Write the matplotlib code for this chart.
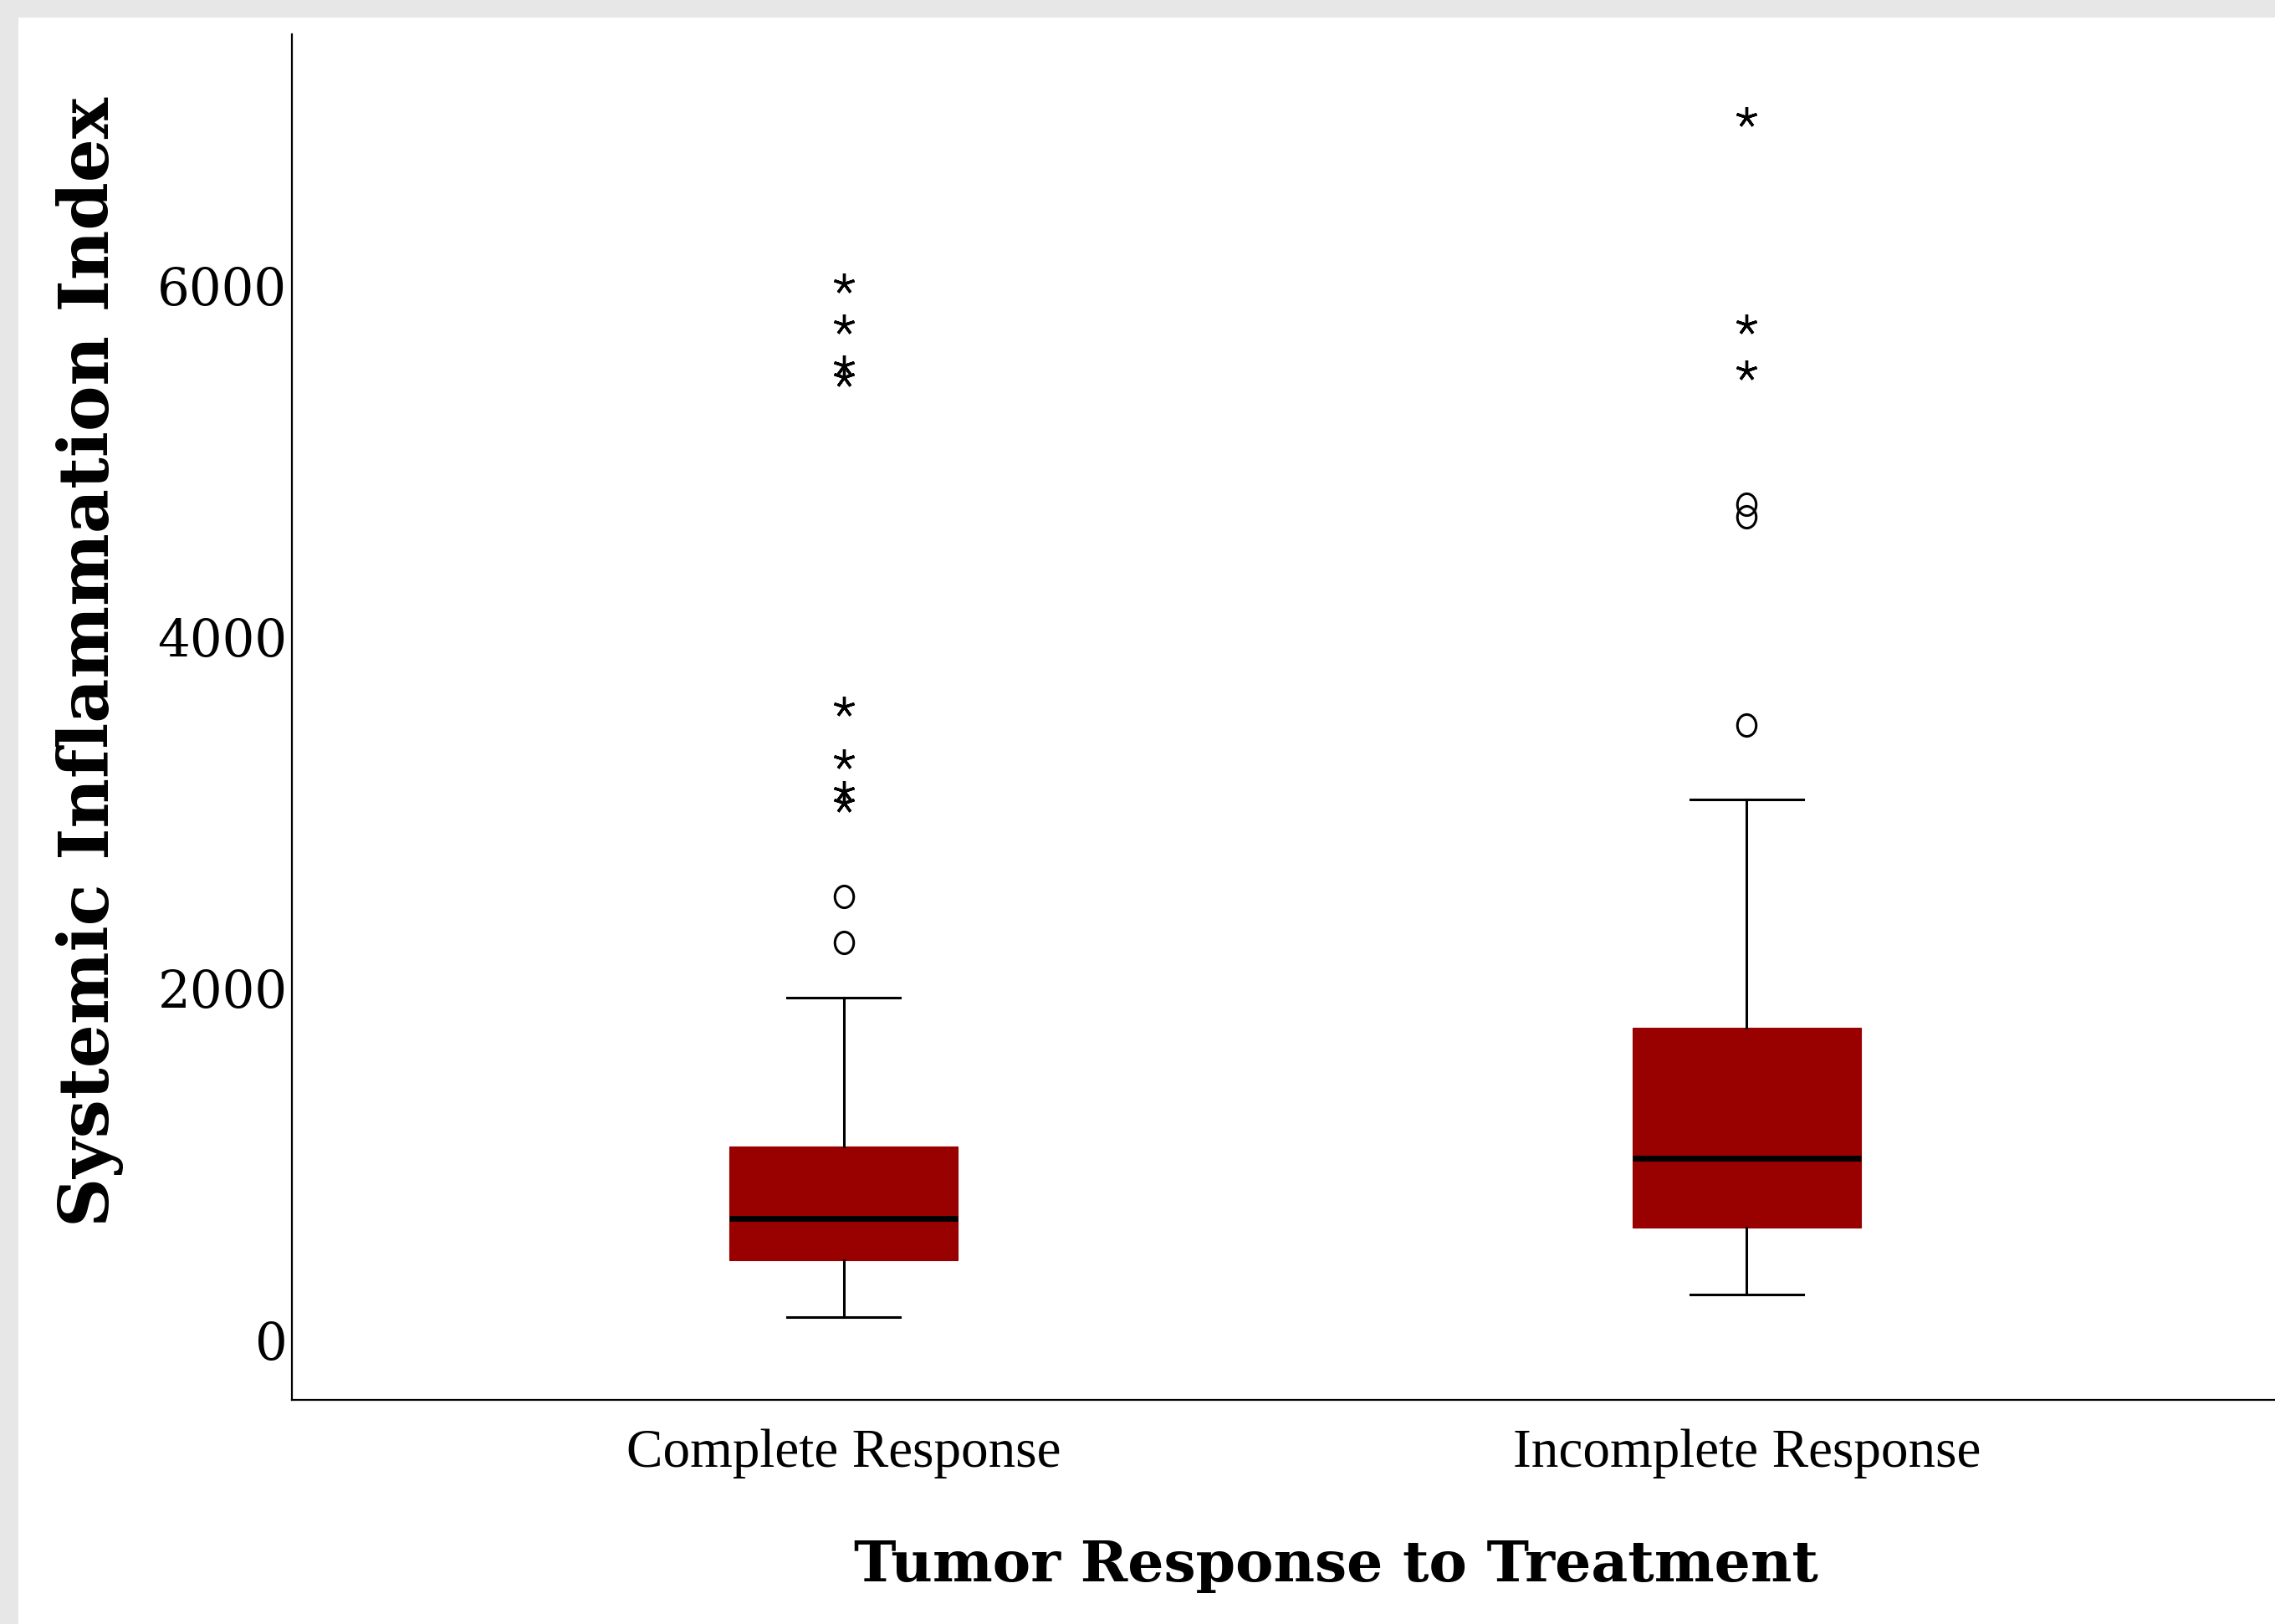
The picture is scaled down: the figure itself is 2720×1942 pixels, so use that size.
import matplotlib
matplotlib.use('Agg')
import matplotlib.pyplot as plt
import matplotlib.transforms as mtransforms
from matplotlib.path import Path
from matplotlib.patches import Rectangle

# values
groups = ['Complete Response', 'Incomplete Response']
whisker_low = [124, 254]
q1 = [449, 631]
median = [687, 1028]
q3 = [1096, 1768]
whisker_high = [1944, 3070]
outliers = [[2257, 2517], [3494, 4676, 4747]]          # drawn as circles
extremes = [[3050, 3118, 3296, 3597, 5471, 5539, 5772, 6004],
            [5508, 5770, 6951]]                         # drawn as asterisks
yticks = [0, 2000, 4000, 6000]

W, H = 2720, 1942
fig = plt.figure(figsize=(W / 200, H / 200), dpi=200)
fig.patch.set_facecolor('white')

# grey screenshot border on top and left
fig.patches.append(Rectangle((0, 1 - 21 / H), 1, 21 / H, transform=fig.transFigure,
                             facecolor='#e7e7e7', edgecolor='none', zorder=0))
fig.patches.append(Rectangle((0, 0), 22 / W, 1, transform=fig.transFigure,
                             facecolor='#e7e7e7', edgecolor='none', zorder=0))

ax = fig.add_axes([349 / W, 1 - 1674 / H, 1 - 349 / W, (1674 - 41) / H])

stats = []
for i, g in enumerate(groups):
    stats.append(dict(whislo=whisker_low[i], q1=q1[i], med=median[i], q3=q3[i],
                      whishi=whisker_high[i], fliers=[], label=g))

positions = [1, 2]
ax.bxp(stats, positions=positions, widths=0.253, capwidths=0.125,
       patch_artist=True, showfliers=False,
       boxprops=dict(facecolor='#990000', edgecolor='#990000', linewidth=0.4),
       medianprops=dict(color='black', linewidth=2.5, solid_capstyle='butt'),
       whiskerprops=dict(color='black', linewidth=1.1),
       capprops=dict(color='black', linewidth=1.1))

ellipse = Path.unit_circle().transformed(mtransforms.Affine2D().scale(0.86, 1.0))
for pos, o, e in zip(positions, outliers, extremes):
    ax.plot([pos] * len(o), o, linestyle='none', marker=ellipse, markersize=9.4,
            markerfacecolor='none', markeredgecolor='black', markeredgewidth=1.1)
    ax.plot([pos] * len(e), e, linestyle='none', marker=(5, 2, 0), markersize=9,
            color='black', markeredgewidth=1.2)

ax.set_xlim(0.389, 2.585)
ax.set_ylim(-347, 7423)
ax.set_yticks(yticks)
ax.set_yticklabels([str(t) for t in yticks], family='DejaVu Serif', fontsize=22)
ax.set_xticks(positions)
ax.set_xticklabels(groups, family='Liberation Serif', fontsize=23.5)
ax.tick_params(axis='y', length=0, pad=2)
ax.tick_params(axis='x', length=0, pad=12.5)

for s in ['top', 'right']:
    ax.spines[s].set_visible(False)
for s in ['left', 'bottom']:
    ax.spines[s].set_linewidth(0.8)
    ax.spines[s].set_color('black')

fig.text(1597 / W, 1 - 1872 / H, 'Tumor Response to Treatment', ha='center', va='center',
         family='DejaVu Serif', fontweight='bold', fontsize=24.5)
fig.text(108 / W, 1 - 792 / H, 'Systemic Inflammation Index', ha='center', va='center',
         rotation=90, family='DejaVu Serif', fontweight='bold', fontsize=29.5)

fig.savefig('out.png', dpi=200)
